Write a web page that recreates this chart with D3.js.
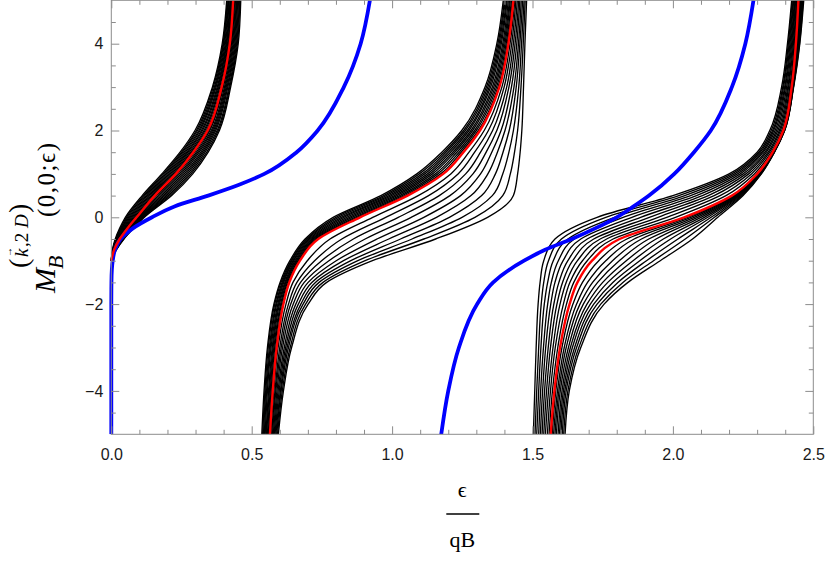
<!DOCTYPE html>
<html>
<head>
<meta charset="utf-8">
<script src="https://cdn.jsdelivr.net/npm/d3@7"></script>
<style>
  body { margin: 0; background: #fff; }
  svg { display: block; }
</style>
</head>
<body>
<div class="chart-container"></div>
<script>
//! DATA
const xTicks = [0, 0.5, 1, 1.5, 2, 2.5]
const yTicks = [-4, -2, 0, 2, 4]
const xMinor = [0.1, 0.2, 0.3, 0.4, 0.6, 0.7, 0.8, 0.9, 1.1, 1.2, 1.3, 1.4, 1.6, 1.7, 1.8, 1.9, 2.1, 2.2, 2.3, 2.4]
const yMinor = [-4.5, -3.5, -3, -2.5, -1.5, -1, -0.5, 0.5, 1, 1.5, 2.5, 3, 3.5, 4.5]

// M values at which the curves were read; each row below = eps/qB of the 20 black curves at that M
const levels1 = [-1, -0.75, -0.5, -0.25, 0, 0.5, 1, 1.5, 2, 3, 4, 5]
const levels = [-5, -4, -3, -2, -1.5, -1, -0.5, 0, 0.5, 1, 1.5, 2, 3, 4, 5]

const black1 = [
  [0, 0, 0, 0, 0, 0, 0, 0, 0, 0, 0, 0, 0, 0, 0, 0, 0, 0, 0, 0],
  [.004, .005, .005, .006, .006, .007, .008, .008, .009, .009, .011, .012, .012, .013, .014, .015, .016, .016, .017, .018],
  [.014, .016, .017, .019, .020, .022, .024, .025, .027, .028, .032, .033, .035, .036, .038, .039, .041, .042, .044, .045],
  [.030, .033, .036, .038, .041, .044, .047, .050, .052, .055, .060, .062, .065, .067, .069, .071, .073, .076, .078, .080],
  [.050, .054, .058, .062, .066, .070, .074, .078, .082, .086, .093, .096, .098, .101, .104, .107, .110, .112, .115, .118],
  [.110, .115, .119, .124, .128, .133, .137, .142, .146, .151, .161, .167, .173, .179, .185, .191, .197, .203, .209, .215],
  [.180, .185, .190, .195, .200, .205, .210, .215, .220, .225, .236, .242, .248, .254, .260, .266, .272, .278, .284, .290],
  [.245, .250, .254, .259, .264, .269, .273, .278, .283, .287, .297, .303, .308, .313, .319, .324, .329, .334, .340, .345],
  [.298, .303, .307, .312, .316, .321, .325, .330, .334, .339, .347, .351, .356, .360, .364, .368, .372, .377, .381, .385],
  [.360, .363, .367, .370, .373, .377, .380, .383, .386, .390, .396, .399, .403, .406, .409, .412, .415, .419, .422, .425],
  [.395, .398, .400, .403, .406, .409, .411, .414, .417, .419, .425, .428, .431, .434, .437, .440, .443, .446, .449, .452],
  [.411, .413, .416, .418, .420, .423, .425, .427, .429, .432, .437, .439, .442, .445, .447, .450, .453, .456, .458, .461]
]
const red1 = [0, .010, .030, .058, .090, .155, .230, .292, .343, .393, .422, .434]

const black2 = [
  [.536, .539, .542, .545, .548, .551, .553, .556, .559, .562, .568, .571, .574, .577, .580, .583, .586, .589, .592, .595],
  [.544, .547, .550, .553, .556, .560, .563, .566, .569, .572, .579, .583, .586, .590, .594, .598, .602, .605, .609, .613],
  [.556, .559, .563, .566, .569, .573, .576, .579, .582, .586, .594, .600, .605, .610, .616, .621, .626, .631, .637, .642],
  [.579, .582, .586, .589, .593, .596, .599, .603, .606, .610, .622, .631, .639, .648, .657, .666, .675, .683, .692, .701],
  [.601, .604, .608, .611, .614, .618, .621, .624, .627, .631, .647, .661, .674, .687, .701, .714, .727, .740, .754, .767],
  [.636, .640, .643, .647, .650, .654, .658, .661, .665, .668, .698, .724, .749, .775, .801, .827, .853, .878, .904, .930],
  [.690, .695, .699, .704, .709, .714, .718, .723, .728, .732, .779, .821, .862, .904, .946, .988, 1.030, 1.071, 1.113, 1.155],
  [.790, .800, .809, .819, .828, .838, .848, .857, .867, .876, .931, .977, 1.022, 1.068, 1.113, 1.158, 1.204, 1.249, 1.295, 1.340],
  [.960, .970, .979, .989, .998, 1.008, 1.017, 1.027, 1.036, 1.046, 1.093, 1.130, 1.168, 1.206, 1.244, 1.281, 1.319, 1.357, 1.394, 1.432],
  [1.088, 1.097, 1.107, 1.116, 1.126, 1.135, 1.144, 1.154, 1.163, 1.173, 1.209, 1.235, 1.262, 1.288, 1.315, 1.341, 1.368, 1.394, 1.421, 1.447],
  [1.177, 1.185, 1.192, 1.200, 1.208, 1.216, 1.223, 1.231, 1.239, 1.246, 1.274, 1.294, 1.315, 1.335, 1.355, 1.375, 1.395, 1.416, 1.436, 1.456],
  [1.248, 1.255, 1.261, 1.268, 1.274, 1.281, 1.287, 1.294, 1.300, 1.307, 1.328, 1.343, 1.358, 1.373, 1.388, 1.402, 1.417, 1.432, 1.447, 1.462],
  [1.331, 1.336, 1.341, 1.346, 1.351, 1.357, 1.362, 1.367, 1.372, 1.377, 1.391, 1.399, 1.408, 1.416, 1.425, 1.434, 1.442, 1.451, 1.459, 1.468],
  [1.373, 1.377, 1.381, 1.385, 1.389, 1.394, 1.398, 1.402, 1.406, 1.410, 1.420, 1.426, 1.432, 1.438, 1.444, 1.450, 1.455, 1.461, 1.467, 1.473],
  [1.396, 1.400, 1.403, 1.407, 1.410, 1.414, 1.418, 1.421, 1.425, 1.428, 1.437, 1.441, 1.446, 1.451, 1.455, 1.460, 1.465, 1.470, 1.474, 1.479]
]
const red2 = [.565, .575, .589, .613, .634, .672, .737, .886, 1.055, 1.182, 1.254, 1.313, 1.382, 1.414, 1.432]

const black3 = [
  [1.503, 1.509, 1.515, 1.522, 1.528, 1.534, 1.540, 1.546, 1.553, 1.559, 1.570, 1.575, 1.580, 1.585, 1.591, 1.596, 1.601, 1.606, 1.611, 1.616],
  [1.508, 1.515, 1.522, 1.529, 1.536, 1.543, 1.550, 1.557, 1.564, 1.571, 1.583, 1.589, 1.594, 1.599, 1.605, 1.610, 1.615, 1.620, 1.626, 1.631],
  [1.513, 1.522, 1.530, 1.539, 1.547, 1.556, 1.564, 1.573, 1.581, 1.590, 1.605, 1.613, 1.620, 1.628, 1.635, 1.642, 1.650, 1.657, 1.665, 1.672],
  [1.520, 1.531, 1.542, 1.554, 1.565, 1.576, 1.587, 1.598, 1.610, 1.621, 1.644, 1.657, 1.669, 1.681, 1.694, 1.706, 1.718, 1.730, 1.743, 1.755],
  [1.527, 1.540, 1.554, 1.567, 1.580, 1.594, 1.607, 1.620, 1.633, 1.647, 1.678, 1.696, 1.714, 1.732, 1.750, 1.768, 1.786, 1.804, 1.822, 1.840],
  [1.540, 1.557, 1.574, 1.592, 1.609, 1.626, 1.643, 1.660, 1.678, 1.695, 1.736, 1.761, 1.785, 1.809, 1.834, 1.858, 1.882, 1.906, 1.931, 1.955],
  [1.580, 1.603, 1.626, 1.649, 1.672, 1.695, 1.718, 1.741, 1.764, 1.787, 1.836, 1.862, 1.888, 1.914, 1.940, 1.966, 1.992, 2.018, 2.044, 2.070],
  [1.730, 1.761, 1.792, 1.823, 1.854, 1.885, 1.916, 1.947, 1.978, 2.009, 2.052, 2.064, 2.076, 2.088, 2.100, 2.112, 2.124, 2.136, 2.148, 2.160],
  [2.000, 2.021, 2.042, 2.063, 2.084, 2.105, 2.126, 2.147, 2.168, 2.189, 2.214, 2.218, 2.222, 2.226, 2.230, 2.234, 2.238, 2.242, 2.246, 2.250],
  [2.200, 2.210, 2.220, 2.230, 2.240, 2.250, 2.260, 2.270, 2.280, 2.290, 2.302, 2.303, 2.305, 2.306, 2.308, 2.309, 2.311, 2.312, 2.314, 2.315],
  [2.300, 2.306, 2.311, 2.317, 2.322, 2.328, 2.333, 2.339, 2.344, 2.350, 2.356, 2.356, 2.357, 2.358, 2.359, 2.359, 2.360, 2.361, 2.361, 2.362],
  [2.345, 2.350, 2.355, 2.359, 2.364, 2.369, 2.374, 2.379, 2.383, 2.388, 2.394, 2.394, 2.395, 2.395, 2.396, 2.396, 2.397, 2.397, 2.398, 2.398],
  [2.387, 2.391, 2.394, 2.398, 2.401, 2.405, 2.409, 2.412, 2.416, 2.419, 2.424, 2.424, 2.425, 2.426, 2.427, 2.427, 2.428, 2.429, 2.429, 2.430],
  [2.408, 2.411, 2.414, 2.417, 2.420, 2.423, 2.426, 2.429, 2.432, 2.435, 2.439, 2.441, 2.442, 2.444, 2.445, 2.447, 2.448, 2.449, 2.451, 2.452],
  [2.423, 2.425, 2.428, 2.430, 2.433, 2.435, 2.437, 2.440, 2.442, 2.445, 2.449, 2.451, 2.453, 2.455, 2.457, 2.458, 2.460, 2.462, 2.464, 2.466]
]
const red3 = [1.565, 1.578, 1.598, 1.632, 1.660, 1.712, 1.810, 2.040, 2.210, 2.300, 2.355, 2.393, 2.423, 2.438, 2.447]

const blueLevels1 = [-5, -2, -1.5, -1.2, -1, -0.75, -0.5, -0.25, 0, 0.25, 0.5, 0.75, 1, 1.5, 2, 3, 4, 5]
const blue1 = [0, 0, .0005, .002, .005, .013, .033, .078, .145, .225, .345, .455, .545, .660, .735, .828, .888, .921]
const blueLevels2 = [-5, -4, -3, -2, -1.5, -1, -0.75, -0.5, -0.25, 0, 0.25, 0.5, 1, 1.5, 2, 3, 4, 5]
const blue2 = [1.175, 1.200, 1.238, 1.303, 1.360, 1.470, 1.545, 1.640, 1.725, 1.800, 1.860, 1.915, 2.005, 2.075, 2.135, 2.210, 2.258, 2.287]

//! CONSTS
const width = 830
const height = 565
const margin = { left: 111.3, right: 16.7, top: 0.3, bottom: 130.7 }
const gray = '#8c8c8c'

//! SVG
const svg =
  d3.select('.chart-container')
    .append('svg')
    .attr('width', width)
    .attr('height', height)

//! SCALES
const xScale =
  d3.scaleLinear()
    .domain([0, 2.5])
    .range([margin.left, width - margin.right])

const yScale =
  d3.scaleLinear()
    .domain([-5, 5])
    .range([height - margin.bottom, margin.top])

const line = d3.line()
  .x(d => xScale(d[0]))
  .y(d => yScale(d[1]))
  .curve(d3.curveMonotoneY)

// one point list per curve, from a table of rows (one row per M level)
const curvesFrom = (rows, lv) =>
  d3.range(rows[0].length).map(c => lv.map((m, i) => [rows[i][c], m]))
const pts = (xs, lv) => lv.map((m, i) => [xs[i], m])

//! CURVES
svg.append('clipPath').attr('id', 'plot-clip')
  .append('rect')
  .attr('x', xScale(0) - 4).attr('y', yScale(5))
  .attr('width', xScale(2.5) - xScale(0) + 4)
  .attr('height', yScale(-5) - yScale(5))

const plot = svg.append('g').attr('clip-path', 'url(#plot-clip)')

const blackCurves = [
  ...curvesFrom(black1, levels1),
  ...curvesFrom(black2, levels),
  ...curvesFrom(black3, levels)
]

plot.selectAll('path.black')
  .data(blackCurves)
  .enter()
  .append('path')
  .attr('class', 'black')
  .attr('d', line)
  .attr('fill', 'none')
  .attr('stroke', '#000')
  .attr('stroke-width', 1.35)

plot.selectAll('path.blue')
  .data([pts(blue1, blueLevels1), pts(blue2, blueLevels2)])
  .enter()
  .append('path')
  .attr('class', 'blue')
  .attr('d', line)
  .attr('fill', 'none')
  .attr('stroke', '#0000ff')
  .attr('stroke-width', 3.8)

plot.selectAll('path.red')
  .data([pts(red1, levels1), pts(red2, levels), pts(red3, levels)])
  .enter()
  .append('path')
  .attr('class', 'red')
  .attr('d', line)
  .attr('fill', 'none')
  .attr('stroke', '#ff0000')
  .attr('stroke-width', 2.4)

//! FRAME + AXES
svg.append('rect')
  .attr('x', xScale(0)).attr('y', yScale(5))
  .attr('width', xScale(2.5) - xScale(0))
  .attr('height', yScale(-5) - yScale(5))
  .attr('fill', 'none')
  .attr('stroke', gray)
  .attr('stroke-width', 1)

const styleAxis = g => {
  g.select('.domain').remove()
  g.attr('color', gray)
    .attr('font-family', '"Liberation Sans", Arial, sans-serif')
    .attr('font-size', 16)
  g.selectAll('text').attr('fill', '#1a1a1a')
}

const fmt = d3.format('.1f')
const yFmt = d3.format('d')

svg.append('g').attr('transform', `translate(0,${yScale(-5)})`)
  .call(d3.axisBottom(xScale).tickValues(xTicks).tickSize(-8).tickPadding(14.5).tickFormat(fmt)).call(styleAxis)
svg.append('g').attr('transform', `translate(0,${yScale(-5)})`)
  .call(d3.axisBottom(xScale).tickValues(xMinor).tickSize(-4.5).tickFormat('')).call(styleAxis)
svg.append('g').attr('transform', `translate(0,${yScale(5)})`)
  .call(d3.axisTop(xScale).tickValues(xTicks).tickSize(-8).tickFormat('')).call(styleAxis)
svg.append('g').attr('transform', `translate(0,${yScale(5)})`)
  .call(d3.axisTop(xScale).tickValues(xMinor).tickSize(-4.5).tickFormat('')).call(styleAxis)

svg.append('g').attr('transform', `translate(${xScale(0)},0)`)
  .call(d3.axisLeft(yScale).tickValues(yTicks).tickSize(-8).tickPadding(8).tickFormat(yFmt)).call(styleAxis)
svg.append('g').attr('transform', `translate(${xScale(0)},0)`)
  .call(d3.axisLeft(yScale).tickValues(yMinor).tickSize(-4.5).tickFormat('')).call(styleAxis)
svg.append('g').attr('transform', `translate(${xScale(2.5)},0)`)
  .call(d3.axisRight(yScale).tickValues(yTicks).tickSize(-8).tickFormat('')).call(styleAxis)
svg.append('g').attr('transform', `translate(${xScale(2.5)},0)`)
  .call(d3.axisRight(yScale).tickValues(yMinor).tickSize(-4.5).tickFormat('')).call(styleAxis)

//! AXIS LABELS
const serif = '"Liberation Serif", "DejaVu Serif", serif'
const cx = (xScale(0) + xScale(2.5)) / 2

const xLab = svg.append('g')
  .attr('font-family', serif)
  .attr('text-anchor', 'middle')
  .attr('fill', '#000')
xLab.append('text').attr('x', cx).attr('y', 497).attr('font-size', 22).text('ϵ')
xLab.append('line')
  .attr('x1', cx - 16).attr('x2', cx + 17)
  .attr('y1', 514).attr('y2', 514)
  .attr('stroke', '#000').attr('stroke-width', 1.3)
xLab.append('text').attr('x', cx).attr('y', 547).attr('font-size', 22).text('qB')

const yLab = svg.append('g')
  .attr('transform', 'translate(55,293) rotate(-90)')
  .attr('font-family', serif)
  .attr('fill', '#000')
yLab.append('text').attr('x', 0).attr('y', 0).attr('font-size', 30).attr('font-style', 'italic').text('M')
yLab.append('text').attr('x', 24).attr('y', 8).attr('font-size', 22).attr('font-style', 'italic').text('B')
yLab.append('text').attr('x', 25).attr('y', -27).attr('font-size', 28).text('(')
yLab.append('text').attr('x', 36).attr('y', -27).attr('font-size', 19).attr('font-style', 'italic').text('k')
yLab.append('text').attr('x', 36).attr('y', -43).attr('font-size', 10).text('→')
yLab.append('text').attr('x', 46).attr('y', -27).attr('font-size', 19).text(',2')
yLab.append('text').attr('x', 65).attr('y', -27).attr('font-size', 19).attr('font-style', 'italic').text('D')
yLab.append('text').attr('x', 80).attr('y', -27).attr('font-size', 28).text(')')
yLab.append('text').attr('x', 76).attr('y', 0).attr('font-size', 25).attr('letter-spacing', 1.5).text('(0,0;ϵ)')
</script>
</body>
</html>
